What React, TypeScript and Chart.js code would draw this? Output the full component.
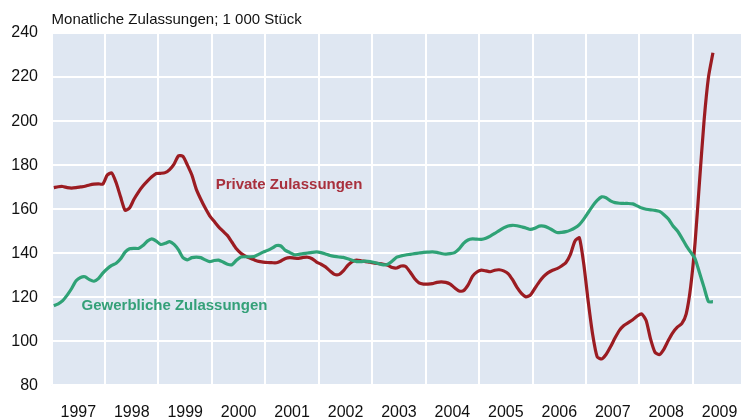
import React, { useEffect, useRef } from "react";
import { Chart, registerables } from "chart.js";

Chart.register(...registerables);

// ---------------- data ----------------
const START_YEAR = 1997; // monthly series, first value = January 1997
const yearLabels = [1997, 1998, 1999, 2000, 2001, 2002, 2003, 2004, 2005, 2006, 2007, 2008, 2009];
const yTickValues = [80, 100, 120, 140, 160, 180, 200, 220, 240];

const titleText = "Monatliche Zulassungen; 1 000 Stück";
const privateName = "Private Zulassungen";
const commercialName = "Gewerbliche Zulassungen";

// Private Zulassungen (1 000 Stück), monthly
const privateValues = [
  169.8, 170.2, 170.3, 169.8, 169.6, 169.8, 170.1, 170.4, 171, 171.4, 171.5, 171.4, // 1997
  175.5, 176.5, 172, 165.5, 159.5, 160.5, 164.5, 167.8, 170.5, 172.7, 174.7, 176.2, // 1998
  176.3, 176.6, 178, 180.5, 184.3, 184, 180, 175.5, 169, 164.5, 160.5, 157, // 1999
  154.5, 152, 150, 148, 145, 142, 140, 138.7, 137.8, 137, 136.3, 136, // 2000
  135.8, 135.7, 135.7, 136.5, 137.6, 138, 137.8, 137.7, 138.1, 138.2, 137.5, 136, // 2001
  135, 133.8, 132, 130.4, 130.3, 132, 134.5, 136.2, 136.9, 136.6, 136.2, 135.9, // 2002
  135.5, 135.3, 135, 134.5, 133.5, 133.3, 134.2, 134, 131.5, 128.5, 126.5, 126, // 2003
  126, 126.2, 126.8, 127, 126.8, 126, 124.3, 122.9, 123, 125.5, 129.5, 131.5, // 2004
  132.3, 132, 131.6, 132.3, 132.5, 132, 130.8, 128, 124.5, 121.8, 120.2, 121, // 2005
  124, 127, 129.5, 131.2, 132.3, 133, 134.2, 135.8, 139.5, 145.5, 147, 135, // 2006
  118, 103, 93, 92, 94, 97.5, 101.5, 105, 107.2, 108.5, 109.8, 111.5, // 2007
  112.5, 109.5, 101, 95, 94, 96.5, 100.5, 104, 106.5, 108, 112.5, 124.8, // 2008
  145, 173, 200, 220, 231, // 2009
];

// Gewerbliche Zulassungen (1 000 Stück), monthly
const commercialValues = [
  116.2, 117, 118.5, 121, 124, 127.5, 129, 129.3, 128, 127.3, 128.5, 131, // 1997
  133, 134.5, 135.5, 137.5, 140.5, 142, 142.2, 142.2, 143.5, 145.5, 146.5, 145.5, // 1998
  144, 144.5, 145.3, 144, 141.5, 138, 137, 138, 138.2, 138, 137, 136.2, // 1999
  136.7, 136.9, 136, 135, 134.8, 136.8, 138.3, 138.4, 138.4, 138.5, 139.5, 140.5, // 2000
  141.3, 142.3, 143.5, 143.3, 141.3, 140.3, 139.3, 139.5, 139.8, 140.1, 140.4, 140.6, // 2001
  140.3, 139.7, 139, 138.6, 138.3, 138.1, 137.5, 136.8, 136.2, 136.2, 136.4, 136.2, // 2002
  135.8, 135.2, 134.7, 135, 136.5, 138.2, 138.8, 139.2, 139.5, 139.8, 140.1, 140.4, // 2003
  140.5, 140.6, 140.4, 139.9, 139.6, 139.8, 140.3, 142, 144.5, 146, 146.5, 146.4, // 2004
  146.3, 146.8, 147.8, 149, 150.3, 151.5, 152.4, 152.7, 152.5, 152, 151.5, 150.8, // 2005
  151.3, 152.3, 152.3, 151.6, 150.5, 149.4, 149.5, 149.8, 150.5, 151.5, 153, 155.5, // 2006
  158.5, 161.5, 164, 165.6, 165.2, 163.8, 163, 162.7, 162.6, 162.6, 162.4, 161.5, // 2007
  160.5, 160, 159.7, 159.5, 159, 157.5, 155.5, 152.5, 150.2, 147, 143.5, 140.5, // 2008
  137.5, 131, 124.5, 118, 118, // 2009
];

// ---------------- styling ----------------
const FONT = "'Liberation Sans', Arial, Helvetica, sans-serif";
const PLOT_BG = "#dfe7f2";
const RED_LINE = "#9b1c22";
const RED_TEXT = "#a8303d";
const GREEN_LINE = "#2fa276";
const GREEN_TEXT = "#34a078";

const toPoints = (values: number[]) =>
  values.map((v, i) => ({ x: START_YEAR + (i + 0.5) / 12, y: v }));

const plotBackground = {
  id: "plotBackground",
  beforeDraw(chart: any) {
    const { ctx, chartArea } = chart;
    if (!chartArea) return;
    ctx.save();
    ctx.fillStyle = PLOT_BG;
    ctx.fillRect(chartArea.left, chartArea.top, chartArea.right - chartArea.left, chartArea.bottom - chartArea.top);
    ctx.restore();
  },
};

const seriesLabels = {
  id: "seriesLabels",
  afterDatasetsDraw(chart: any) {
    const { ctx, scales } = chart;
    const items = [
      { text: privateName, color: RED_TEXT, x: 2000.07, y: 170.9 },
      { text: commercialName, color: GREEN_TEXT, x: 1997.56, y: 116 },
    ];
    ctx.save();
    ctx.font = `bold 15px ${FONT}`;
    ctx.textAlign = "left";
    ctx.textBaseline = "middle";
    for (const it of items) {
      ctx.fillStyle = it.color;
      ctx.fillText(it.text, scales.x.getPixelForValue(it.x), scales.y.getPixelForValue(it.y));
    }
    ctx.restore();
  },
};

export default function App() {
  const canvasRef = useRef<HTMLCanvasElement | null>(null);

  useEffect(() => {
    const canvas = canvasRef.current;
    if (!canvas) return;
    const chart = new Chart(canvas, {
      type: "line",
      data: {
        datasets: [
          {
            label: commercialName,
            data: toPoints(commercialValues),
            borderColor: GREEN_LINE,
            borderWidth: 3.2,
            pointRadius: 0,
            tension: 0.2,
            fill: false,
          },
          {
            label: privateName,
            data: toPoints(privateValues),
            borderColor: RED_LINE,
            borderWidth: 3.2,
            pointRadius: 0,
            tension: 0.2,
            fill: false,
          },
        ],
      },
      options: {
        responsive: false,
        animation: false,
        events: [],
        layout: { padding: 0 },
        plugins: {
          legend: { display: false },
          tooltip: { enabled: false },
          title: {
            display: true,
            text: titleText,
            align: "start",
            fullSize: false,
            color: "#111",
            font: { family: FONT, size: 15, weight: "normal", lineHeight: 1.2 },
            padding: { top: 3, bottom: 4 },
          },
        },
        scales: {
          x: {
            type: "linear",
            min: 1997,
            max: 2009.9,
            afterBuildTicks: (s: any) => {
              s.ticks = yearLabels.map((y) => ({ value: y + 0.5 }));
            },
            afterFit: (s: any) => {
              s.height = 33.6;
              s.paddingLeft = 0;
              s.paddingRight = 0;
            },
            ticks: {
              callback: (v: any) => String(Math.floor(Number(v))),
              autoSkip: false,
              maxRotation: 0,
              padding: 19,
              color: "#111",
              font: { family: FONT, size: 16, lineHeight: 1 },
            },
            grid: { color: "#ffffff", lineWidth: 2, offset: true, drawTicks: false },
            border: { display: false },
          },
          y: {
            type: "linear",
            min: 80,
            max: 240,
            afterBuildTicks: (s: any) => {
              s.ticks = yTickValues.map((v) => ({ value: v }));
            },
            afterFit: (s: any) => {
              s.width = 43.6;
            },
            ticks: {
              padding: 13.6,
              color: "#111",
              font: { family: FONT, size: 16, lineHeight: 1.2 },
            },
            grid: { color: "#ffffff", lineWidth: 2, drawTicks: false },
            border: { display: false },
          },
        },
      },
      plugins: [plotBackground, seriesLabels],
    } as any);
    return () => chart.destroy();
  }, []);

  return (
    <div style={{ position: "fixed", left: 8, top: 8, width: 733, height: 411 }}>
      <canvas ref={canvasRef} width={733} height={411} style={{ display: "block", width: 733, height: 411 }} />
    </div>
  );
}
